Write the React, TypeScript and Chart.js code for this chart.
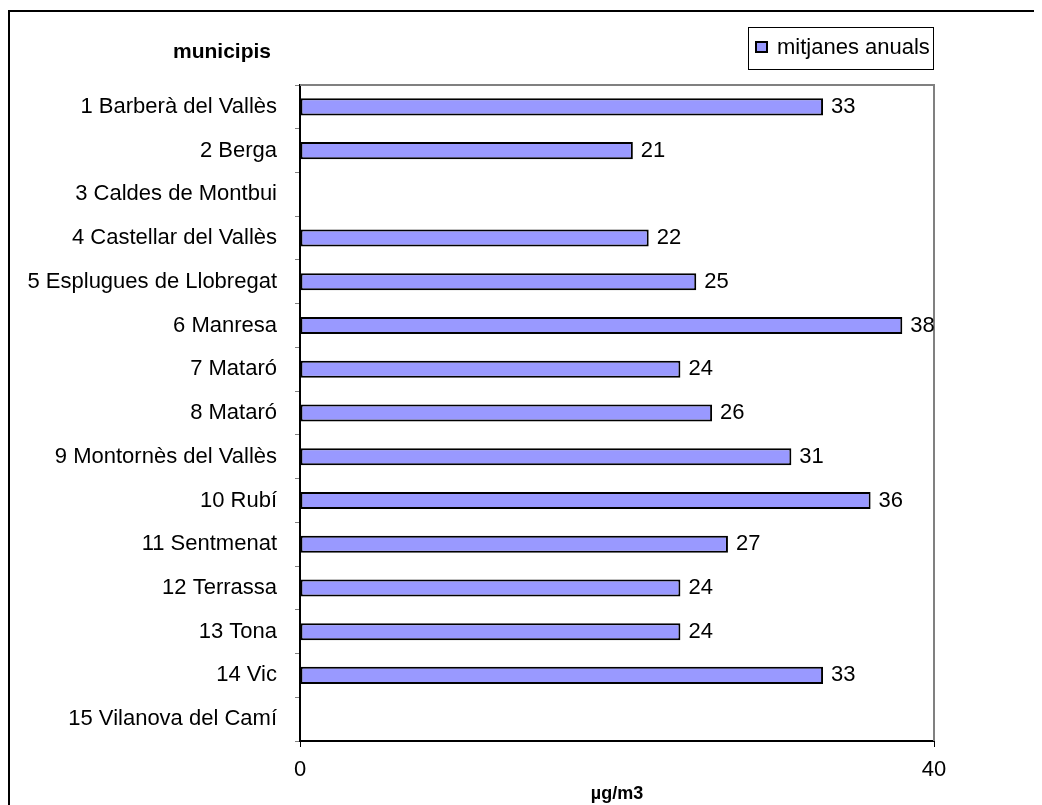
import React, { useEffect, useRef } from "react";
import { Chart, registerables } from "chart.js";

Chart.register(...registerables);

const categories = [
  "1 Barberà del Vallès",
  "2 Berga",
  "3 Caldes de Montbui",
  "4 Castellar del Vallès",
  "5 Esplugues de Llobregat",
  "6 Manresa",
  "7 Mataró",
  "8 Mataró",
  "9 Montornès del Vallès",
  "10 Rubí",
  "11 Sentmenat",
  "12 Terrassa",
  "13 Tona",
  "14 Vic",
  "15 Vilanova del Camí",
];
const values: (number | null)[] = [33, 21, null, 22, 25, 38, 24, 26, 31, 36, 27, 24, 24, 33, null];
const seriesName = "mitjanes anuals";
const axisTitleY = "municipis";
const axisTitleX = "µg/m3";
const xTicks = [0, 40];

const FONT = "Arial, 'Liberation Sans', sans-serif";

export default function App() {
  const ref = useRef<HTMLCanvasElement>(null);
  useEffect(() => {
    const canvas = ref.current!;
    const extras = {
      id: "extras",
      afterDraw(chart: any) {
        const ctx = chart.ctx;
        const a = chart.chartArea;
        const xs = chart.scales.x;
        const ys = chart.scales.y;
        ctx.save();
        // outer frame
        ctx.strokeStyle = "#000";
        ctx.lineWidth = 2;
        ctx.beginPath();
        ctx.moveTo(1, chart.height + 5);
        ctx.lineTo(1, 3);
        ctx.lineTo(chart.width + 5, 3);
        ctx.stroke();
        // plot frame top/right grey
        ctx.strokeStyle = "#808080";
        ctx.lineWidth = 2;
        ctx.beginPath();
        ctx.moveTo(a.left, a.top);
        ctx.lineTo(a.right, a.top);
        ctx.lineTo(a.right, a.bottom);
        ctx.stroke();
        // value labels
        ctx.fillStyle = "#000";
        ctx.font = "22px " + FONT;
        ctx.textBaseline = "middle";
        ctx.textAlign = "left";
        values.forEach((v, i) => {
          if (v == null) return;
          ctx.fillText(String(v), xs.getPixelForValue(v) + 8, ys.getPixelForValue(i));
        });
        // y title
        ctx.font = "bold 21px " + FONT;
        ctx.textAlign = "center";
        ctx.textBaseline = "alphabetic";
        ctx.fillText(axisTitleY, 214, 50);
        // legend
        const lx = 740, ly = 19, lw = 185, lh = 42;
        ctx.strokeStyle = "#000";
        ctx.lineWidth = 1;
        ctx.strokeRect(lx + 0.5, ly + 0.5, lw, lh);
        ctx.fillStyle = "#9999FF";
        ctx.fillRect(lx + 8, ly + 15, 11, 10);
        ctx.lineWidth = 2;
        ctx.strokeRect(lx + 8, ly + 15, 11, 10);
        ctx.fillStyle = "#000";
        ctx.font = "22px " + FONT;
        ctx.textAlign = "left";
        ctx.textBaseline = "middle";
        ctx.fillText(seriesName, lx + 29, ly + 21);
        ctx.restore();
      },
    };
    const chart = new Chart(canvas, {
      type: "bar",
      data: {
        labels: categories,
        datasets: [
          {
            label: seriesName,
            data: values,
            backgroundColor: "#9999FF",
            borderColor: "#000",
            borderWidth: 2,
            borderSkipped: false,
            barPercentage: 0.39,
            categoryPercentage: 1,
          },
        ],
      },
      plugins: [extras],
      options: {
        indexAxis: "y",
        animation: false,
        responsive: false,
        maintainAspectRatio: false,
        layout: { padding: { left: 0, top: 77, right: 108, bottom: 0 } },
        plugins: { legend: { display: false }, tooltip: { enabled: false } },
        scales: {
          x: {
            min: 0,
            max: 40,
            afterBuildTicks: (s: any) => {
              s.ticks = xTicks.map((v) => ({ value: v }));
            },
            afterFit: (s: any) => {
              s.height = 64;
            },
            grid: {
              drawOnChartArea: false,
              tickLength: 6,
              color: "#000",
              lineWidth: 1,
            },
            border: { color: "#000", width: 2 },
            ticks: {
              color: "#000",
              font: { family: FONT, size: 22 },
              padding: 10,
              maxRotation: 0,
            },
            title: {
              display: true,
              text: axisTitleX,
              color: "#000",
              font: { family: FONT, size: 18, weight: "bold" },
              padding: { top: 0, bottom: 0 },
            },
          },
          y: {
            afterFit: (s: any) => {
              s.width = 292;
            },
            grid: {
              offset: true,
              drawOnChartArea: false,
              tickLength: 5,
              color: "#808080",
            },
            border: { color: "#000", width: 2 },
            ticks: {
              color: "#000",
              font: { family: FONT, size: 22 },
              padding: 18,
              autoSkip: false,
            },
          },
        },
      },
    } as any);
    return () => chart.destroy();
  }, []);
  return <canvas ref={ref} width={1034} height={797} style={{ display: "block" }} />;
}
